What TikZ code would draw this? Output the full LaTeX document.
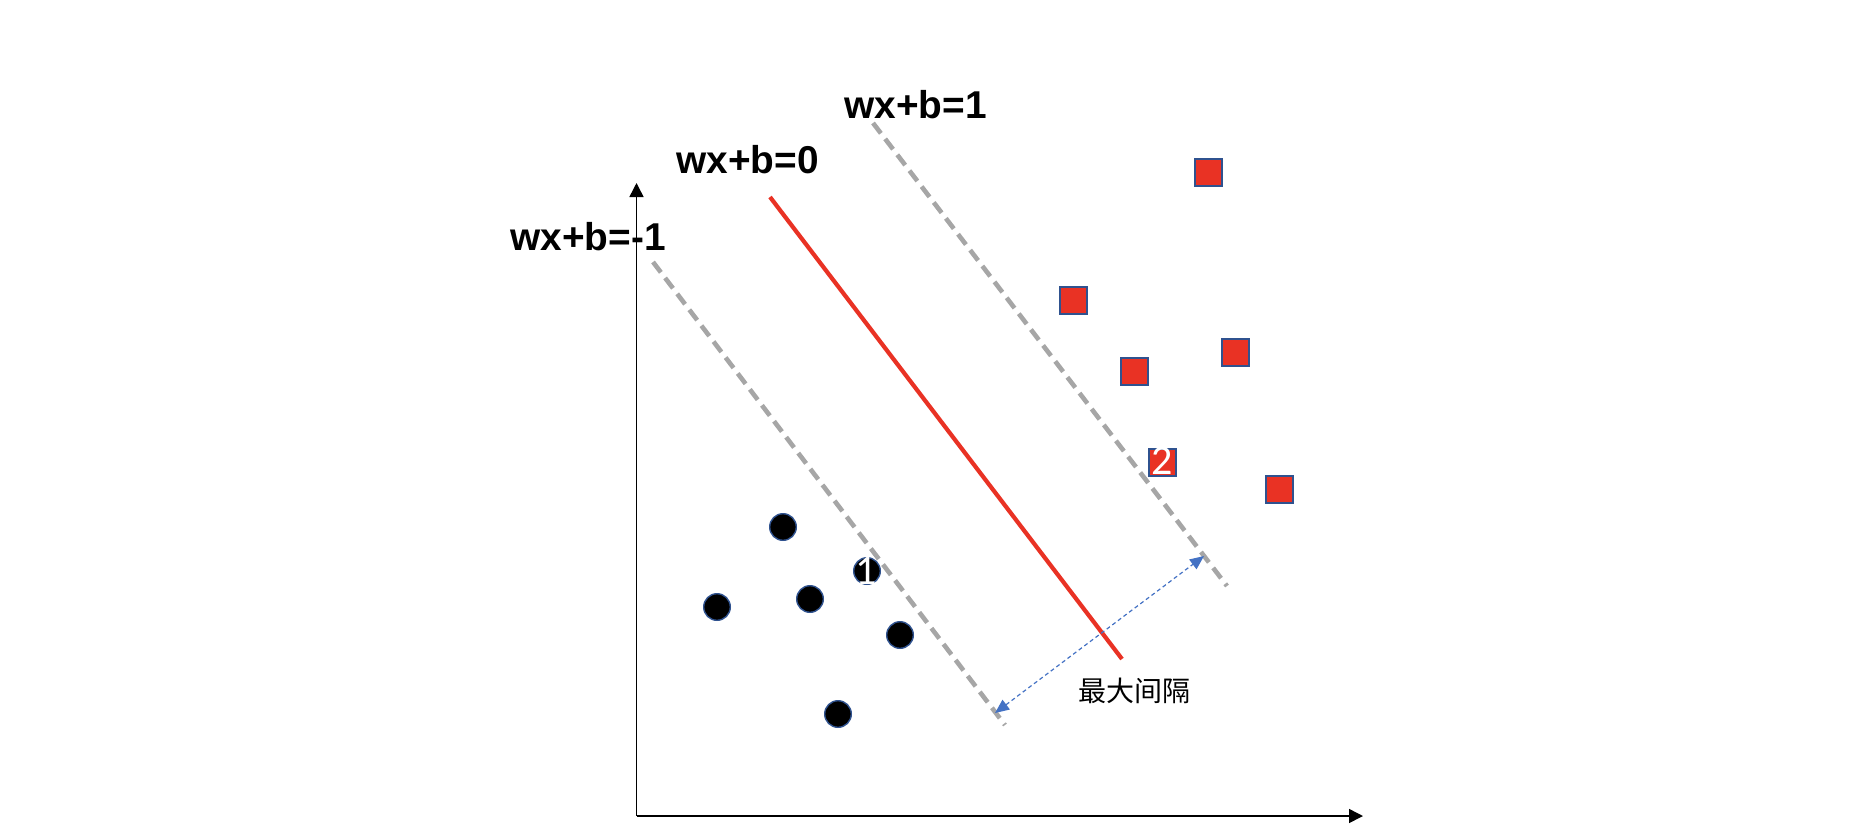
\documentclass[tikz,border=0pt]{standalone}
\usepackage{fontspec}
\setmainfont{Liberation Sans}
\newfontfamily\cjk{Noto Sans CJK SC}
\newfontfamily\calib{Carlito}
\usetikzlibrary{arrows.meta}
\definecolor{svmred}{RGB}{233,50,36}
\definecolor{svmblue}{RGB}{47,82,143}
\definecolor{svmgrey}{RGB}{166,166,166}
\definecolor{arrowblue}{RGB}{68,114,196}
\begin{document}
\begin{tikzpicture}[x=0.5pt,y=-0.5pt,
  axisline/.style={line width=0.75pt,-{Triangle[length=7pt,width=7pt]}},
  marginline/.style={svmgrey,line width=2.3pt,dash pattern=on 6.5pt off 3.5pt},
  hyper/.style={svmred,line width=2.1pt},
  sq/.style={draw=svmblue,fill=svmred,line width=1pt,minimum size=13.5pt,inner sep=0pt,outer sep=0pt},
  dot/.style={circle,draw=svmblue,fill=black,line width=0.7pt,minimum size=13.3pt,inner sep=0pt},
  eq/.style={font=\bfseries\fontsize{19.4pt}{22pt}\selectfont,inner sep=0pt,anchor=base west},
  num/.style={font=\calib\fontsize{21pt}{24pt}\selectfont,text=white,inner sep=0pt},
  gaparrow/.style={arrowblue,line width=0.6pt,dash pattern=on 2pt off 1.5pt,
    {Triangle[length=7pt,width=6pt]}-{Triangle[length=7pt,width=6pt]}}
]
\useasboundingbox (0,0) rectangle (1868,836);
% axes
\coordinate (O) at (636.5,816);
\coordinate (ytip) at (636.5,183);
\coordinate (xtip) at (1363,816);
\draw[axisline] (O) -- (ytip);
\draw[axisline] (O) -- (xtip);
% lines
\coordinate (h1) at (770,197);
\coordinate (h2) at (1122,659);
\coordinate (p1) at (873,123);
\coordinate (p2) at (1227,586);
\coordinate (m1) at (653,262);
\coordinate (m2) at (1005,725);
\draw[marginline] (p1) -- (p2);
\draw[marginline] (m1) -- (m2);
\draw[hyper] (h1) -- (h2);
\coordinate (g1) at (995,713);
\coordinate (g2) at (1204,556);
\draw[gaparrow] (g1) -- (g2);
% labels
\node[eq] (lp) at (844,118) {wx+b=1};
\node[eq] (lh) at (676,173) {wx+b=0};
\node[eq] (lm) at (510,250) {wx+b=-1};
\node[font=\cjk\fontsize{14pt}{16pt}\selectfont,inner sep=0pt,anchor=base west] (lg) at (1078,701) {最大间隔};
% squares
\node[sq] (s1) at (1208,172) {};
\node[sq] (s2) at (1073,300) {};
\node[sq] (s3) at (1235,352) {};
\node[sq] (s4) at (1134,371) {};
\node[sq] (s5) at (1162,462) {};
\node[sq] (s6) at (1279,489) {};
% circles
\node[dot] (c1) at (783,527) {};
\node[dot] (c2) at (867,571) {};
\node[dot] (c3) at (717,607) {};
\node[dot] (c4) at (810,599) {};
\node[dot] (c5) at (900,635) {};
\node[dot] (c6) at (838,714) {};
% support vector numbers
\node[num] (n1) at (866,571) {1};
\node[num] (n2) at (1162,461) {2};
\end{tikzpicture}
\end{document}
